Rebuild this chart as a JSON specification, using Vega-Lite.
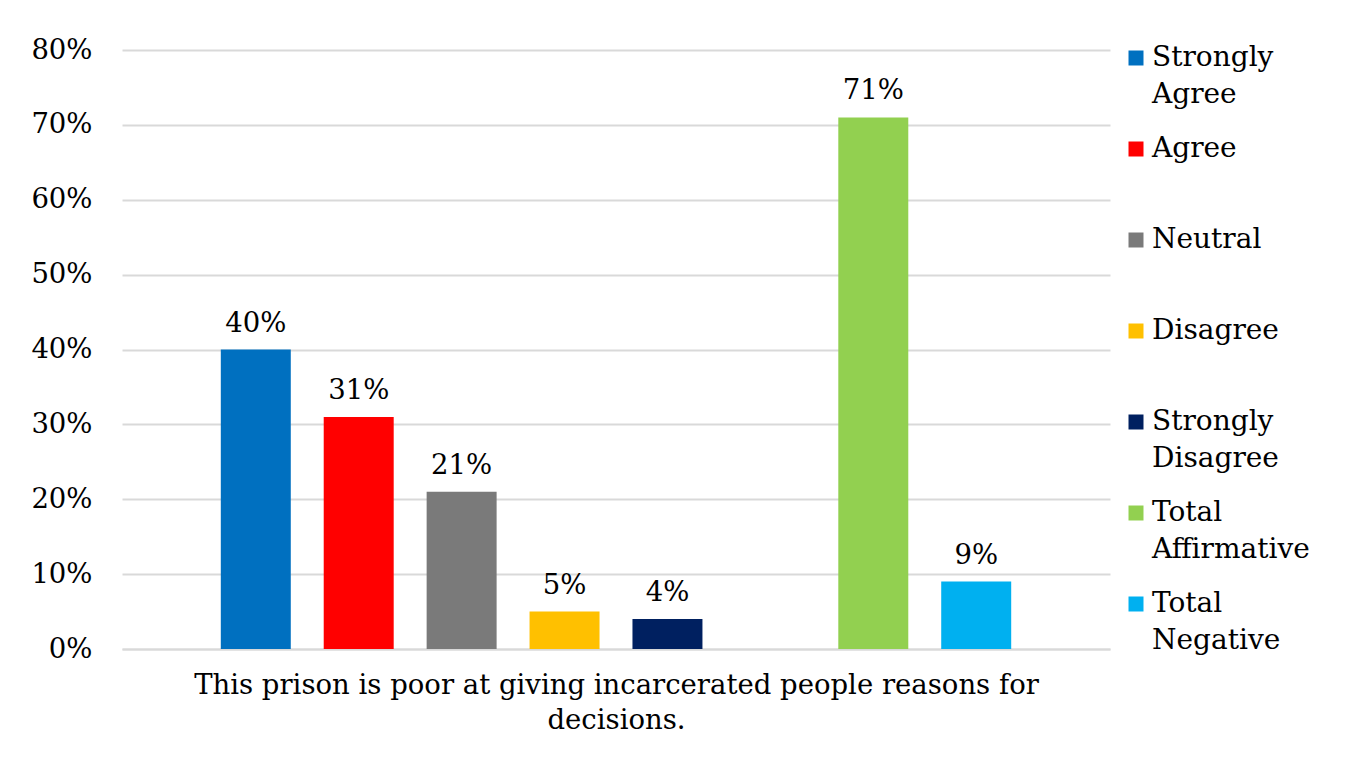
{
  "$schema": "https://vega.github.io/schema/vega-lite/v6.json",
  "width": 988,
  "height": 599,
  "autosize": {"type": "none"},
  "padding": {"left": 122, "top": 50, "right": 241, "bottom": 123},
  "background": "white",
  "config": {
    "font": "DejaVu Serif",
    "view": {"stroke": null}
  },
  "data": {
    "values": [
      {"series": "Strongly Agree", "value": 0.40},
      {"series": "Agree", "value": 0.31},
      {"series": "Neutral", "value": 0.21},
      {"series": "Disagree", "value": 0.05},
      {"series": "Strongly Disagree", "value": 0.04},
      {"series": "Total Affirmative", "value": 0.71},
      {"series": "Total Negative", "value": 0.09}
    ]
  },
  "encoding": {
    "x": {
      "field": "series",
      "type": "nominal",
      "scale": {
        "domain": ["Strongly Agree", "Agree", "Neutral", "Disagree", "Strongly Disagree", "gap", "Total Affirmative", "Total Negative"],
        "paddingInner": 0.32,
        "paddingOuter": 0.96
      },
      "axis": {
        "labels": false,
        "ticks": false,
        "domain": true,
        "domainColor": "#d9d9d9",
        "domainWidth": 2,
        "title": ["This prison is poor at giving incarcerated people reasons for", "decisions."],
        "titleFont": "DejaVu Serif",
        "titleFontSize": 27.5,
        "titleFontWeight": "normal",
        "titleColor": "#000000",
        "titlePadding": 22,
        "titleLineHeight": 35
      }
    },
    "y": {
      "field": "value",
      "type": "quantitative",
      "scale": {"domain": [0, 0.8]},
      "axis": {
        "values": [0, 0.1, 0.2, 0.3, 0.4, 0.5, 0.6, 0.7, 0.8],
        "format": ".0%",
        "title": null,
        "ticks": false,
        "domain": false,
        "grid": true,
        "gridColor": "#d9d9d9",
        "gridWidth": 2,
        "labelFont": "DejaVu Serif",
        "labelFontSize": 27.5,
        "labelColor": "#000000",
        "labelPadding": 30
      }
    }
  },
  "layer": [
    {
      "mark": {"type": "bar"},
      "encoding": {
        "color": {
          "field": "series",
          "type": "nominal",
          "scale": {
            "domain": ["Strongly Agree", "Agree", "Neutral", "Disagree", "Strongly Disagree", "Total Affirmative", "Total Negative"],
            "range": ["#0070C0", "#FF0000", "#7A7A7A", "#FFC000", "#002060", "#92D050", "#00B0F0"]
          },
          "legend": {
            "title": null,
            "orient": "none",
            "legendX": 1000,
            "legendY": -6,
            "symbolType": "square",
            "symbolSize": 225,
            "symbolStrokeWidth": 0,
            "labelFont": "DejaVu Serif",
            "labelFontSize": 28,
            "labelColor": "#000000",
            "labelLimit": 300,
            "labelOffset": 2,
            "labelExpr": "split(datum.label, ' ')",
            "labelBaseline": "middle",
            "gridAlign": "all",
            "rowPadding": 26,
            "padding": 0,
            "encode": {"labels": {"update": {"lineHeight": {"value": 37}}}}
          }
        }
      }
    },
    {
      "mark": {"type": "text", "baseline": "bottom", "dy": -12, "fontSize": 27.5, "font": "DejaVu Serif", "color": "#000000"},
      "encoding": {
        "text": {"field": "value", "type": "quantitative", "format": ".0%"}
      }
    }
  ]
}
